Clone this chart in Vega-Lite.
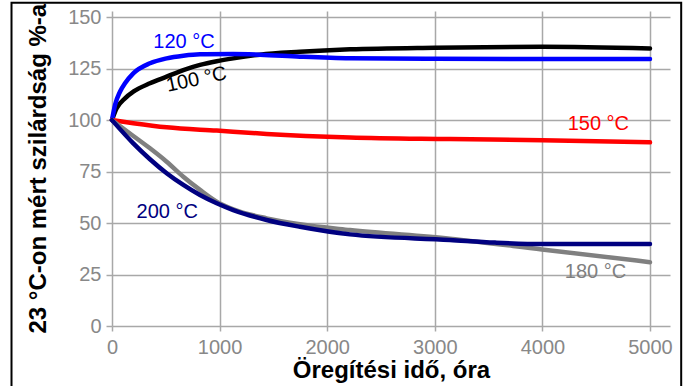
{
  "$schema": "https://vega.github.io/schema/vega-lite/v6.json",
  "width": 558,
  "height": 315,
  "autosize": {"type": "none"},
  "padding": {"left": 112, "top": 11, "right": 19, "bottom": 60},
  "background": "white",
  "config": {"view": {"stroke": null}, "font": "Liberation Sans"},
  "datasets": {
    "curves": [
      {"t": 0, "v": 100, "s": "100 °C"},
      {"t": 43, "v": 105.7, "s": "100 °C"},
      {"t": 121, "v": 110.6, "s": "100 °C"},
      {"t": 198, "v": 113.8, "s": "100 °C"},
      {"t": 353, "v": 117.9, "s": "100 °C"},
      {"t": 508, "v": 121.1, "s": "100 °C"},
      {"t": 663, "v": 124.3, "s": "100 °C"},
      {"t": 818, "v": 126.8, "s": "100 °C"},
      {"t": 973, "v": 128.6, "s": "100 °C"},
      {"t": 1127, "v": 130, "s": "100 °C"},
      {"t": 1375, "v": 131.8, "s": "100 °C"},
      {"t": 1747, "v": 133.2, "s": "100 °C"},
      {"t": 2212, "v": 134.4, "s": "100 °C"},
      {"t": 3000, "v": 135.2, "s": "100 °C"},
      {"t": 4000, "v": 135.6, "s": "100 °C"},
      {"t": 5000, "v": 134.8, "s": "100 °C"},

      {"t": 0, "v": 100, "s": "120 °C"},
      {"t": 28, "v": 107.3, "s": "120 °C"},
      {"t": 74, "v": 113.8, "s": "120 °C"},
      {"t": 121, "v": 117.9, "s": "120 °C"},
      {"t": 198, "v": 122.7, "s": "120 °C"},
      {"t": 353, "v": 127.6, "s": "120 °C"},
      {"t": 508, "v": 130, "s": "120 °C"},
      {"t": 663, "v": 131.3, "s": "120 °C"},
      {"t": 818, "v": 132, "s": "120 °C"},
      {"t": 1127, "v": 132.1, "s": "120 °C"},
      {"t": 1375, "v": 131.8, "s": "120 °C"},
      {"t": 1747, "v": 130.8, "s": "120 °C"},
      {"t": 2212, "v": 130, "s": "120 °C"},
      {"t": 3000, "v": 129.8, "s": "120 °C"},
      {"t": 4000, "v": 129.7, "s": "120 °C"},
      {"t": 5000, "v": 129.7, "s": "120 °C"},

      {"t": 0, "v": 100, "s": "150 °C"},
      {"t": 198, "v": 98.5, "s": "150 °C"},
      {"t": 508, "v": 96.5, "s": "150 °C"},
      {"t": 973, "v": 94.9, "s": "150 °C"},
      {"t": 1437, "v": 93.3, "s": "150 °C"},
      {"t": 2212, "v": 91.6, "s": "150 °C"},
      {"t": 3141, "v": 90.8, "s": "150 °C"},
      {"t": 4000, "v": 90.2, "s": "150 °C"},
      {"t": 5000, "v": 89.2, "s": "150 °C"},

      {"t": 0, "v": 100, "s": "180 °C"},
      {"t": 198, "v": 92.3, "s": "180 °C"},
      {"t": 353, "v": 86.3, "s": "180 °C"},
      {"t": 508, "v": 79.8, "s": "180 °C"},
      {"t": 663, "v": 72.5, "s": "180 °C"},
      {"t": 818, "v": 66.1, "s": "180 °C"},
      {"t": 973, "v": 60.4, "s": "180 °C"},
      {"t": 1127, "v": 56.7, "s": "180 °C"},
      {"t": 1437, "v": 52.3, "s": "180 °C"},
      {"t": 1747, "v": 49.4, "s": "180 °C"},
      {"t": 2212, "v": 46.6, "s": "180 °C"},
      {"t": 3141, "v": 42.4, "s": "180 °C"},
      {"t": 3996, "v": 37.2, "s": "180 °C"},
      {"t": 5000, "v": 31, "s": "180 °C"},

      {"t": 0, "v": 100, "s": "200 °C"},
      {"t": 198, "v": 88.7, "s": "200 °C"},
      {"t": 353, "v": 81, "s": "200 °C"},
      {"t": 508, "v": 74.2, "s": "200 °C"},
      {"t": 663, "v": 68.5, "s": "200 °C"},
      {"t": 818, "v": 63.6, "s": "200 °C"},
      {"t": 973, "v": 59.6, "s": "200 °C"},
      {"t": 1127, "v": 56.3, "s": "200 °C"},
      {"t": 1437, "v": 51.5, "s": "200 °C"},
      {"t": 1747, "v": 48.2, "s": "200 °C"},
      {"t": 2212, "v": 44.5, "s": "200 °C"},
      {"t": 3141, "v": 41.8, "s": "200 °C"},
      {"t": 3560, "v": 40.5, "s": "200 °C"},
      {"t": 3996, "v": 39.8, "s": "200 °C"},
      {"t": 5000, "v": 39.8, "s": "200 °C"}
    ],
    "labels": [
      {"t": 669, "v": 137.9, "s": "120 °C"},
      {"t": 785, "v": 119.7, "s": "100 °C"},
      {"t": 4520, "v": 98.0, "s": "150 °C"},
      {"t": 513, "v": 55.3, "s": "200 °C"},
      {"t": 4494, "v": 26.0, "s": "180 °C"}
    ]
  },
  "encoding": {
    "x": {
      "type": "quantitative",
      "scale": {"domain": [0, 5186], "nice": false, "zero": false},
      "title": "Öregítési idő, óra",
      "axis": {
        "values": [0, 1000, 2000, 3000, 4000, 5000],
        "format": "d",
        "grid": true, "gridColor": "#a8a8a8", "gridWidth": 1.5,
        "domain": false, "tickColor": "#a8a8a8", "tickWidth": 1.5, "tickSize": 5,
        "labelFontSize": 20, "labelColor": "#888888", "labelPadding": 6,
        "labelFlush": false, "labelOverlap": false,
        "titleFontSize": 24, "titleFontWeight": "bold", "titleColor": "black",
        "titleY": 51, "titleBaseline": "alphabetic"
      }
    },
    "y": {
      "type": "quantitative",
      "scale": {"domain": [0, 153], "nice": false},
      "title": "23 °C-on mért szilárdság %-a",
      "axis": {
        "values": [0, 25, 50, 75, 100, 125, 150],
        "format": "d",
        "grid": true, "gridColor": "#a8a8a8", "gridWidth": 1.5,
        "domain": false, "tickColor": "#a8a8a8", "tickWidth": 1.5, "tickSize": 6,
        "labelFontSize": 20, "labelColor": "#888888", "labelPadding": 5,
        "labelOverlap": false,
        "titleFontSize": 24, "titleFontWeight": "bold", "titleColor": "black",
        "titleAngle": -90, "titleX": -74, "titleY": 322, "titleAlign": "left", "titleBaseline": "middle"
      }
    }
  },
  "layer": [
    {
      "data": {"values": [{}]},
      "mark": {"type": "rect", "fill": null, "stroke": "black", "strokeWidth": 2, "clip": false},
      "encoding": {
        "x": {"datum": -934, "type": "quantitative"},
        "x2": {"datum": 5290},
        "y": {"datum": 157, "type": "quantitative"},
        "y2": {"datum": -40}
      }
    },
    {
      "data": {"name": "curves"},
      "mark": {"type": "line", "strokeWidth": 4.5, "interpolate": "monotone", "strokeCap": "round", "clip": false},
      "encoding": {
        "x": {"field": "t", "type": "quantitative"},
        "y": {"field": "v", "type": "quantitative"},
        "color": {
          "field": "s", "type": "nominal",
          "scale": {"domain": ["100 °C", "120 °C", "150 °C", "180 °C", "200 °C"], "range": ["#000000", "#0000ff", "#ff0000", "#808080", "#000080"]},
          "legend": null
        }
      }
    },
    {
      "data": {"name": "labels"},
      "transform": [{"filter": "datum.s !== '100 °C'"}],
      "mark": {"type": "text", "fontSize": 20, "align": "center", "baseline": "middle"},
      "encoding": {
        "x": {"field": "t", "type": "quantitative"},
        "y": {"field": "v", "type": "quantitative"},
        "text": {"field": "s"},
        "color": {"field": "s", "type": "nominal", "legend": null}
      }
    },
    {
      "data": {"name": "labels"},
      "transform": [{"filter": "datum.s === '100 °C'"}],
      "mark": {"type": "text", "fontSize": 20, "align": "center", "baseline": "middle", "angle": -12},
      "encoding": {
        "x": {"field": "t", "type": "quantitative"},
        "y": {"field": "v", "type": "quantitative"},
        "text": {"field": "s"},
        "color": {"field": "s", "type": "nominal", "legend": null}
      }
    }
  ]
}
